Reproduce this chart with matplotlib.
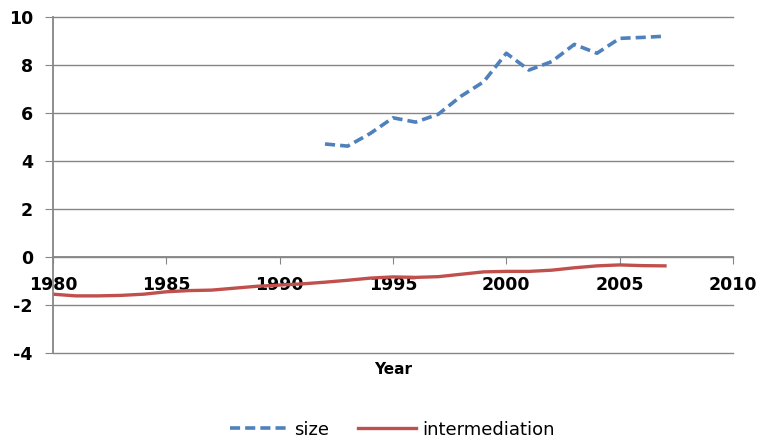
import matplotlib
matplotlib.use("Agg")
import matplotlib.pyplot as plt

plt.rcParams["axes.unicode_minus"] = False

size_years = [1992, 1993, 1994, 1995, 1996, 1997, 1998, 1999, 2000, 2001,
              2002, 2003, 2004, 2005, 2006, 2007]
size_values = [4.71, 4.62, 5.15, 5.80, 5.62, 5.95, 6.70, 7.30, 8.49, 7.79,
               8.14, 8.86, 8.49, 9.11, 9.15, 9.20]

inter_years = list(range(1980, 2008))
inter_values = [-1.55, -1.62, -1.62, -1.60, -1.55, -1.45, -1.40, -1.38, -1.30,
                -1.22, -1.17, -1.12, -1.05, -0.97, -0.88, -0.83, -0.85, -0.82,
                -0.72, -0.62, -0.60, -0.60, -0.55, -0.45, -0.37, -0.33, -0.36,
                -0.37]

x_ticks = [1980, 1985, 1990, 1995, 2000, 2005, 2010]
y_ticks = [-4, -2, 0, 2, 4, 6, 8, 10]

fig = plt.figure(figsize=(7.58, 4.43), dpi=100)
ax = fig.add_axes([0.0699, 0.2032, 0.8971, 0.7584])

grid_c = "#868686"
ax.plot(size_years, size_values, color="#4F81BD", lw=2.6, ls=(0, (2.8, 1.4)),
        label="size")
ax.plot(inter_years, inter_values, color="#C0504D", lw=2.4, label="intermediation")

ax.set_xlim(1980, 2010)
ax.set_ylim(-4, 10)
ax.set_xticks(x_ticks)
ax.set_yticks(y_ticks)
ax.yaxis.grid(True, color=grid_c, lw=1.0)
ax.set_axisbelow(True)
for gl in ax.get_ygridlines():
    gl.set_clip_on(False)

for s in ["top", "right"]:
    ax.spines[s].set_visible(False)
ax.spines["left"].set_color(grid_c)
ax.spines["left"].set_linewidth(1.3)
ax.spines["bottom"].set_position(("data", 0))
ax.spines["bottom"].set_color(grid_c)
ax.spines["bottom"].set_linewidth(1.3)

ax.tick_params(axis="x", direction="out", length=5, color=grid_c, pad=9,
               labelsize=12.5)
ax.tick_params(axis="y", direction="out", length=6, color=grid_c, pad=8.5,
               labelsize=12.5)
for lab in ax.get_xticklabels() + ax.get_yticklabels():
    lab.set_fontweight("bold")

fig.text(0.518, 0.165, "Year", ha="center", va="center", fontsize=11,
         fontweight="bold")

fig.legend(loc="center", bbox_to_anchor=(0.518, 0.03), ncol=2, frameon=False,
           fontsize=13, handlelength=3.2, columnspacing=1.6, handletextpad=0.35)

fig.savefig("out.png", dpi=100)
